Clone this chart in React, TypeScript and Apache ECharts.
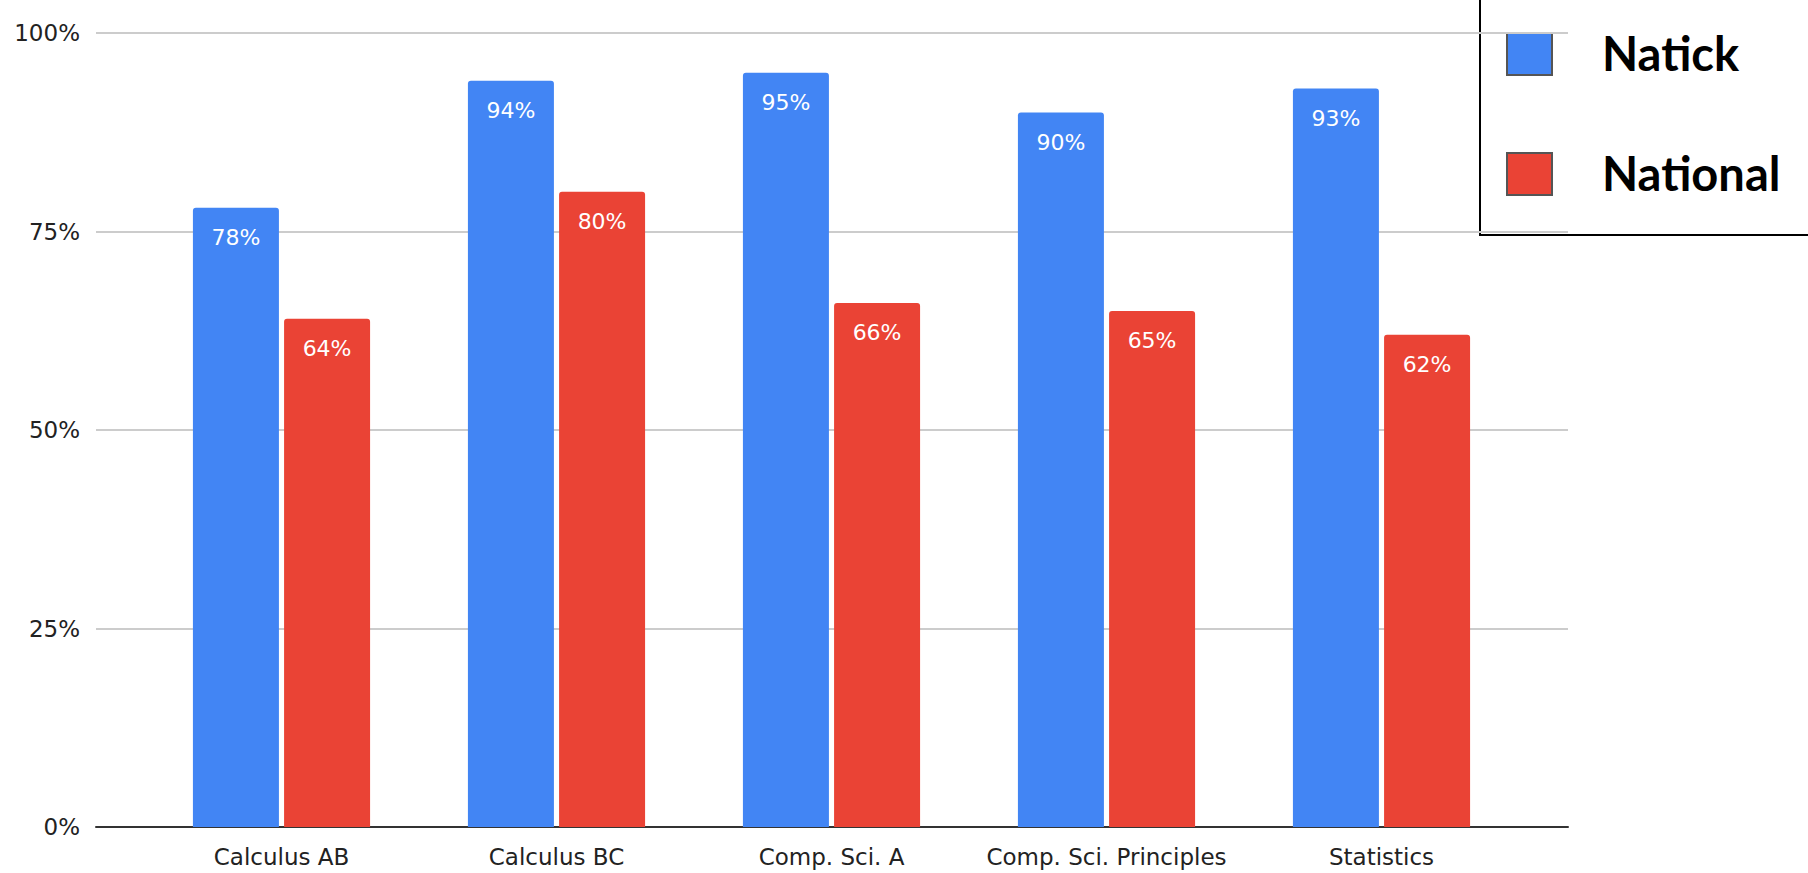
import React, { useEffect, useRef } from "react";
import * as echarts from "echarts";

// AP exam pass rates by course
const courses = ["Calculus AB", "Calculus BC", "Comp. Sci. A", "Comp. Sci. Principles", "Statistics"];
const natick = [78, 94, 95, 90, 93];
const national = [64, 80, 66, 65, 62];
const seriesNames = ["Natick", "National"];
const yTicks = [0, 25, 50, 75, 100];

const BLUE = "#4285F4";
const RED = "#EA4335";
const FONT = "'DejaVu Sans', Verdana, sans-serif";

export default function App() {
  const ref = useRef<HTMLDivElement>(null);

  useEffect(() => {
    if (!ref.current) return;
    const chart = echarts.init(ref.current, undefined, { renderer: "svg" });

    const barLabel = {
      show: true,
      position: "insideTop" as const,
      distance: 19,
      color: "#ffffff",
      fontSize: 22,
      fontFamily: FONT,
      formatter: (p: any) => `${p.value}%`,
    };

    chart.setOption({
      animation: false,
      backgroundColor: "#ffffff",
      textStyle: { fontFamily: FONT },
      grid: [
        // full-width frame carrying gridlines and the baseline
        { left: 96, right: 240, top: 33, bottom: 46 },
        // inner band where the bars sit
        { left: 144, right: 289, top: 33, bottom: 46 },
      ],
      xAxis: [
        {
          gridIndex: 0,
          type: "value",
          min: 0,
          max: 1,
          axisLine: { show: true, lineStyle: { color: "#333333", width: 2 } },
          axisTick: { show: false },
          axisLabel: { show: false },
          splitLine: { show: false },
        },
        {
          gridIndex: 1,
          type: "category",
          data: courses,
          axisLine: { show: false },
          axisTick: { show: false },
          axisLabel: { fontSize: 23, color: "#222222", margin: 18, interval: 0, fontFamily: FONT },
        },
      ],
      yAxis: [
        {
          gridIndex: 0,
          type: "value",
          min: yTicks[0],
          max: yTicks[yTicks.length - 1],
          interval: 25,
          axisLine: { show: false },
          axisTick: { show: false },
          axisLabel: {
            fontSize: 23,
            color: "#222222",
            margin: 16,
            fontFamily: FONT,
            formatter: (v: number) => `${v}%`,
          },
          splitLine: { lineStyle: { color: "#cccccc", width: 2 } },
        },
        {
          gridIndex: 1,
          type: "value",
          min: yTicks[0],
          max: yTicks[yTicks.length - 1],
          show: false,
          splitLine: { show: false },
        },
      ],
      series: [
        {
          name: seriesNames[0],
          type: "bar",
          xAxisIndex: 1,
          yAxisIndex: 1,
          data: natick,
          barWidth: 86,
          barGap: "6%",
          itemStyle: { color: BLUE, borderRadius: [3, 3, 0, 0] },
          label: barLabel,
        },
        {
          name: seriesNames[1],
          type: "bar",
          xAxisIndex: 1,
          yAxisIndex: 1,
          data: national,
          barWidth: 86,
          barGap: "6%",
          itemStyle: { color: RED, borderRadius: [3, 3, 0, 0] },
          label: barLabel,
        },
      ],
      graphic: [
        {
          type: "group",
          z: 100,
          children: [
            {
              type: "rect",
              shape: { x: 1480, y: -4, width: 340, height: 239 },
              style: { fill: "#ffffff", stroke: "#000000", lineWidth: 2 },
            },
            {
              type: "rect",
              shape: { x: 1507, y: 33, width: 45, height: 42 },
              style: { fill: BLUE, stroke: "#555555", lineWidth: 2 },
            },
            {
              type: "rect",
              shape: { x: 1507, y: 153, width: 45, height: 42 },
              style: { fill: RED, stroke: "#555555", lineWidth: 2 },
            },
            {
              type: "text",
              x: 1602,
              y: 53,
              style: {
                text: seriesNames[0],
                fill: "#000000",
                font: "bold 47px Lato, sans-serif",
                verticalAlign: "middle",
              },
            },
            {
              type: "text",
              x: 1602,
              y: 173,
              style: {
                text: seriesNames[1],
                fill: "#000000",
                font: "bold 47px Lato, sans-serif",
                verticalAlign: "middle",
              },
            },
          ],
        },
      ],
    });

    return () => chart.dispose();
  }, []);

  return (
    <div
      ref={ref}
      style={{ position: "fixed", left: 0, top: 0, width: 1808, height: 873 }}
    />
  );
}
